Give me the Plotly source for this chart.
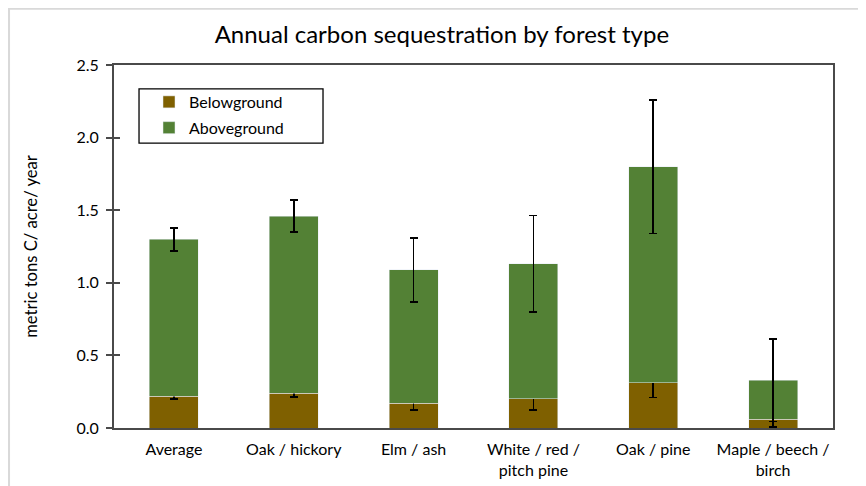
import plotly.graph_objects as go

categories = ["Average", "Oak / hickory", "Elm / ash", "White / red /<br>pitch pine",
              "Oak / pine", "Maple / beech /<br>birch"]
below = [0.22, 0.24, 0.17, 0.20, 0.31, 0.06]
below_err = [0.018, 0.024, 0.047, 0.074, 0.10, 0.055]
above = [1.08, 1.22, 0.92, 0.93, 1.49, 0.27]
above_err = [0.08, 0.11, 0.22, 0.333, 0.46, 0.285]
yticks = [0.0, 0.5, 1.0, 1.5, 2.0, 2.5]

FONT = "Lato"
BROWN = "#7F6000"
GREEN = "#538135"
AXIS = "#4a4a4a"

fig = go.Figure()
fig.add_trace(go.Bar(
    x=categories, y=below, name="Belowground", marker_color=BROWN,
    legendgroup="b",
    error_y=dict(type="data", array=below_err, color="black", thickness=1.8, width=4),
))
fig.add_trace(go.Bar(
    x=categories, y=above, name="Aboveground", marker_color=GREEN,
    legendgroup="a",
    error_y=dict(type="data", array=above_err, color="black", thickness=1.8, width=4),
))
fig.add_trace(go.Scatter(x=[], y=[], yaxis="y2", showlegend=False, hoverinfo="skip"))

fig.update_layout(
    width=866, height=486,
    paper_bgcolor="white", plot_bgcolor="white",
    barmode="stack", bargap=0.59,
    margin=dict(l=106, r=41, t=57, b=66),
    font=dict(family=FONT, color="black", size=16),
    title=dict(text="Annual carbon sequestration by forest type", x=0.456, xanchor="center",
               xref="paper", y=0.945, yanchor="middle",
               font=dict(size=24, family=FONT, color="black")),
    showlegend=True,
    legend=dict(x=0.0487, y=0.945, xanchor="left", yanchor="top",
                borderwidth=0, bgcolor="rgba(0,0,0,0)",
                font=dict(size=16, family=FONT), traceorder="grouped",
                tracegroupgap=2),
    xaxis=dict(showline=True, linecolor=AXIS, linewidth=1.8, mirror=True,
               ticks="", tickfont=dict(size=16), ticklabelstandoff=6),
    yaxis=dict(range=[0, 2.5], tickvals=yticks, tickformat=".1f",
               showline=True, linecolor=AXIS, linewidth=1.8, mirror=True,
               ticks="outside", ticklen=6, tickwidth=1.5, tickcolor=AXIS,
               showgrid=False, zeroline=False, tickfont=dict(size=16),
               ticklabelstandoff=4,
               title=dict(text="metric tons C/ acre/ year", font=dict(size=16.6), standoff=35)),
    yaxis2=dict(range=[0, 2.5], tickvals=yticks, overlaying="y", side="left",
                showticklabels=False, ticks="inside", ticklen=6, tickwidth=1.5,
                tickcolor=AXIS, showgrid=False, zeroline=False, showline=False),
    shapes=[
        dict(type="rect", xref="paper", yref="paper",
             x0=-0.146, x1=1.2, y0=-0.4, y1=1.155,
             line=dict(color="#d9d9d9", width=2), fillcolor="rgba(0,0,0,0)", layer="below"),
        dict(type="rect", xref="paper", yref="paper",
             x0=0.0348, x1=0.2907, y0=0.785, y1=0.934,
             line=dict(color="black", width=1.3), fillcolor="white", layer="below"),
    ],
)

fig.write_html("out.html")
